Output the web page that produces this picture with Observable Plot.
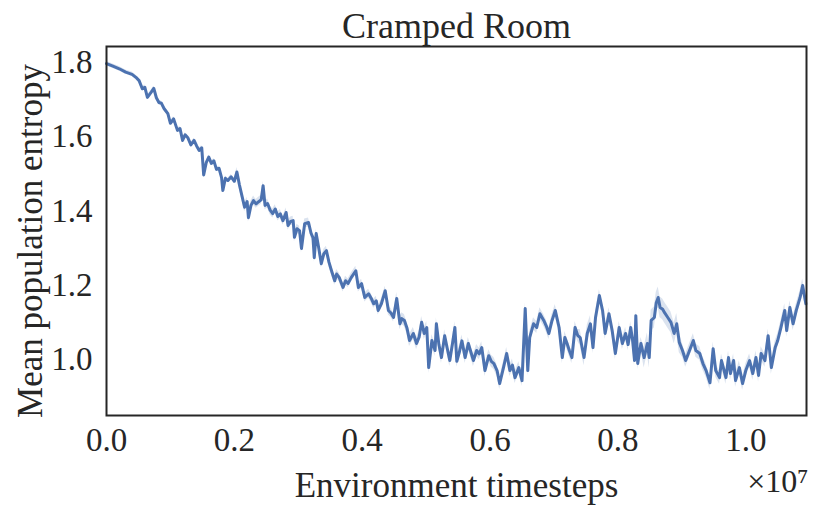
<!DOCTYPE html>
<html><head><meta charset="utf-8">
<script src="https://cdn.jsdelivr.net/npm/d3@7"></script>
<script src="https://cdn.jsdelivr.net/npm/@observablehq/plot@0.6"></script>
<style>
body{margin:0;background:#fff;}
#chart svg{font-family:"Liberation Serif",serif;}
</style>
</head><body><div id="chart"></div>
<script>
// Environment timesteps, in units of 1e7
const steps = [
0.000,0.010,0.020,0.030,0.040,0.046,0.051,0.056,0.060,0.064,0.070,0.074,0.078,0.082,0.086,0.090,0.096,0.100,0.105,0.111,
0.115,0.119,0.123,0.127,0.132,0.137,0.141,0.145,0.149,0.152,0.156,0.160,0.164,0.168,0.172,0.176,0.180,0.182,0.186,0.190,
0.195,0.200,0.204,0.208,0.212,0.216,0.220,0.222,0.226,0.230,0.234,0.238,0.242,0.245,0.248,0.252,0.256,0.260,0.264,0.268,
0.272,0.276,0.281,0.284,0.288,0.292,0.294,0.298,0.302,0.305,0.310,0.316,0.320,0.323,0.325,0.328,0.332,0.336,0.340,0.344,
0.348,0.352,0.357,0.360,0.364,0.370,0.374,0.378,0.383,0.390,0.394,0.399,0.404,0.410,0.414,0.418,0.422,0.425,0.430,0.436,
0.441,0.445,0.449,0.454,0.459,0.462,0.466,0.470,0.474,0.480,0.485,0.489,0.493,0.497,0.501,0.504,0.509,0.514,0.516,0.520,
0.524,0.529,0.533,0.537,0.541,0.545,0.548,0.552,0.556,0.561,0.566,0.570,0.574,0.579,0.583,0.587,0.592,0.598,0.602,0.606,
0.611,0.615,0.621,0.626,0.631,0.635,0.639,0.645,0.650,0.655,0.659,0.662,0.668,0.673,0.678,0.684,0.688,0.692,0.697,0.702,
0.708,0.713,0.717,0.721,0.724,0.728,0.733,0.737,0.741,0.747,0.752,0.757,0.761,0.765,0.771,0.776,0.780,0.786,0.791,0.796,
0.802,0.807,0.812,0.816,0.820,0.823,0.826,0.828,0.831,0.836,0.841,0.846,0.849,0.852,0.857,0.860,0.863,0.866,0.870,0.873,
0.878,0.883,0.888,0.892,0.896,0.901,0.906,0.912,0.918,0.922,0.928,0.933,0.938,0.944,0.949,0.953,0.959,0.962,0.969,0.973,
0.976,0.981,0.984,0.990,0.995,1.000,1.006,1.011,1.016,1.020,1.024,1.030,1.035,1.040,1.046,1.050,1.055,1.061,1.064,1.069,
1.074,1.079,1.085,1.089,1.094
];
const entropy = [
1.797,1.790,1.783,1.774,1.768,1.760,1.751,1.729,1.733,1.706,1.720,1.730,1.705,1.692,1.690,1.676,1.662,1.636,1.648,1.617,
1.622,1.590,1.605,1.598,1.578,1.590,1.575,1.563,1.570,1.497,1.530,1.545,1.528,1.535,1.512,1.515,1.490,1.455,1.488,1.482,
1.492,1.480,1.505,1.470,1.440,1.410,1.425,1.382,1.415,1.428,1.419,1.425,1.430,1.468,1.415,1.420,1.402,1.393,1.405,1.385,
1.392,1.374,1.396,1.361,1.372,1.374,1.329,1.352,1.347,1.299,1.366,1.369,1.340,1.328,1.274,1.339,1.300,1.258,1.285,1.293,
1.262,1.239,1.212,1.230,1.221,1.194,1.212,1.205,1.221,1.239,1.194,1.204,1.167,1.177,1.165,1.150,1.158,1.132,1.150,1.185,
1.132,1.125,1.113,1.164,1.096,1.110,1.105,1.085,1.051,1.070,1.043,1.060,1.100,1.070,1.086,0.978,1.051,1.024,1.096,1.040,
1.005,1.064,1.030,0.997,1.040,1.086,0.995,1.020,1.050,1.005,1.043,1.020,0.997,1.024,1.015,1.032,0.970,1.010,0.995,0.989,
0.970,0.935,0.978,1.016,0.970,0.985,0.951,0.978,0.943,1.137,0.970,1.059,1.096,1.086,1.123,1.105,1.090,1.070,1.105,1.132,
1.086,1.005,1.059,1.040,1.024,1.005,1.086,1.065,1.059,1.005,1.070,1.096,1.032,1.113,1.172,1.132,1.070,1.123,1.078,1.016,
1.086,1.043,1.070,1.040,1.086,1.051,0.997,1.118,0.989,1.043,1.005,1.043,1.005,1.105,1.113,1.153,1.167,1.140,1.135,1.126,
1.113,1.100,1.070,1.096,1.046,1.024,0.997,1.024,1.051,1.024,1.016,0.989,0.970,0.937,1.029,0.970,0.951,0.997,0.951,1.005,
0.962,0.997,0.943,0.978,0.935,0.970,0.997,0.962,1.005,0.957,1.016,0.997,1.064,0.978,1.032,1.051,1.086,1.132,1.078,1.140,
1.096,1.132,1.167,1.199,1.150
];
// band half-width, by range of timesteps (upper end of each range, x1e7)
const spreadRangeEnds = [0.20, 0.45, 0.74, 0.76, 0.84, 0.90, 1.10];
const spreadValues    = [0.006, 0.012, 0.016, 0.022, 0.016, 0.028, 0.018];
const xTicks = [0.0, 0.2, 0.4, 0.6, 0.8, 1.0];
const yTicks = [1.0, 1.2, 1.4, 1.6, 1.8];

const data = steps.map((x, i) => {
  const s = spreadValues[spreadRangeEnds.findIndex(e => x <= e)];
  return {x, y: entropy[i], lo: entropy[i] - s, hi: entropy[i] + s};
});

const ink = "#262626";
const blue = "#4c72b0";
const chart = Plot.plot({
  width: 830,
  height: 516,
  marginLeft: 106,
  marginRight: 24,
  marginTop: 46,
  marginBottom: 101,
  style: {fontFamily: "'Liberation Serif', serif", color: ink, background: "#fff"},
  x: {domain: [0, 1.095]},
  y: {domain: [0.849, 1.843]},
  marks: [
    Plot.areaY(data, {x: "x", y1: "lo", y2: "hi", fill: blue, fillOpacity: 0.2}),
    Plot.lineY(data, {x: "x", y: "y", stroke: blue, strokeWidth: 3, strokeLinejoin: "round"}),
    Plot.frame({stroke: ink, strokeWidth: 2}),
    Plot.axisX({ticks: xTicks, tickSize: 0, tickPadding: 12, tickFormat: d3.format(".1f"), fontSize: 33, label: null, fill: ink}),
    Plot.axisY({ticks: yTicks, tickSize: 0, tickPadding: 14, tickFormat: d3.format(".1f"), fontSize: 33, label: null, fill: ink}),
    Plot.text(["Cramped Room"], {frameAnchor: "top", lineAnchor: "middle", dy: -20, fontSize: 36, fill: ink}),
    Plot.text(["Environment timesteps"], {frameAnchor: "bottom", lineAnchor: "middle", dy: 70, fontSize: 35, fill: ink}),
    Plot.text(["×10⁷"], {frameAnchor: "bottom-right", lineAnchor: "middle", dy: 66, dx: 2, textAnchor: "end", fontSize: 32, fill: ink}),
    Plot.text(["Mean population entropy"], {frameAnchor: "left", textAnchor: "middle", lineAnchor: "middle", dx: -76, dy: 10, rotate: -90, fontSize: 35, fill: ink})
  ]
});
document.getElementById("chart").appendChild(chart);
</script>
</body></html>
